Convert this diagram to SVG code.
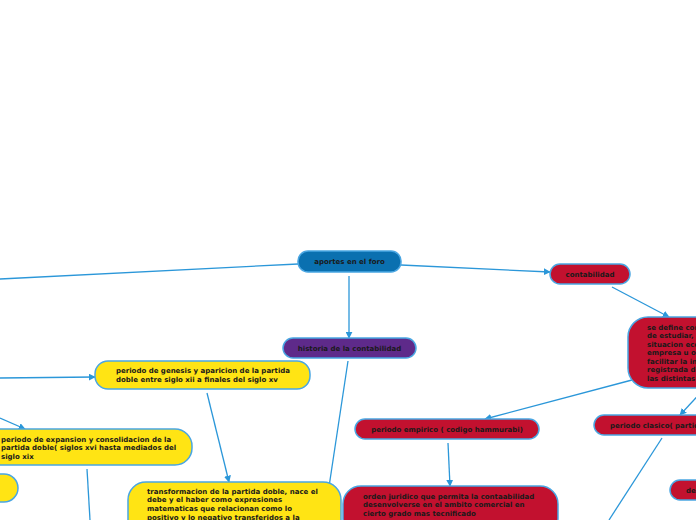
<svg xmlns="http://www.w3.org/2000/svg" width="696" height="520" viewBox="0 0 696 520">
<style>
.n{stroke:#4aa6e2;stroke-width:1.5}
.blue{fill:#0a70b0}
.red{fill:#c2112f}
.pur{fill:#5e2a8a}
.yel{fill:#ffe414}
text{font-family:"DejaVu Sans",Verdana,sans-serif;font-weight:bold;font-size:7px;fill:#1a1a1a}
.c{text-anchor:middle}
.e{fill:none;stroke:#2b97d9;stroke-width:1.3}
</style>
<defs>
<marker id="ah" viewBox="0 0 10 10" refX="9" refY="5" markerWidth="7" markerHeight="7" markerUnits="userSpaceOnUse" orient="auto">
<path d="M0,0 L10,5 L0,10 z" fill="#2b97d9"/>
</marker>
</defs>
<rect width="696" height="520" fill="#ffffff"/>
<g id="connectors">
<line class="e" x1="298" y1="264" x2="0" y2="279"/>
<line class="e" x1="401" y1="265" x2="550" y2="272" marker-end="url(#ah)"/>
<line class="e" x1="349" y1="276" x2="349" y2="338" marker-end="url(#ah)"/>
<line class="e" x1="612" y1="287" x2="669" y2="317" marker-end="url(#ah)"/>
<line class="e" x1="632" y1="380" x2="485" y2="419" marker-end="url(#ah)"/>
<line class="e" x1="705" y1="388" x2="680" y2="415" marker-end="url(#ah)"/>
<line class="e" x1="448" y1="443" x2="450" y2="486" marker-end="url(#ah)"/>
<line class="e" x1="662" y1="438" x2="609" y2="520"/>
<line class="e" x1="348" y1="361" x2="327" y2="500"/>
<line class="e" x1="0" y1="378" x2="95" y2="377" marker-end="url(#ah)"/>
<line class="e" x1="0" y1="418" x2="25" y2="429" marker-end="url(#ah)"/>
<line class="e" x1="207" y1="393" x2="229" y2="482" marker-end="url(#ah)"/>
<line class="e" x1="87" y1="469" x2="90" y2="520"/>
</g>
<g id="aportes">
<rect class="n blue" x="298" y="251" width="103" height="21" rx="10"/>
<text class="c" x="349.5" y="264">aportes en el foro</text>
</g>
<g id="contabilidad">
<rect class="n red" x="550" y="264" width="80" height="20" rx="10"/>
<text class="c" x="590" y="276.5">contabilidad</text>
</g>
<g id="definicion">
<rect class="n red" x="628" y="317" width="100" height="71" rx="20"/>
<text x="647" y="329.5">se define como</text>
<text x="647" y="338">de estudiar,</text>
<text x="647" y="346.5">situacion economica</text>
<text x="647" y="355">empresa u organizacion</text>
<text x="647" y="363.5">facilitar la informacion</text>
<text x="647" y="372">registrada de</text>
<text x="647" y="380.5">las distintas</text>
</g>
<g id="historia">
<rect class="n pur" x="283" y="338" width="133" height="20" rx="10"/>
<text class="c" x="349.5" y="350.5">historia de la contabilidad</text>
</g>
<g id="genesis">
<rect class="n yel" x="95" y="361" width="215" height="28" rx="13"/>
<text x="116" y="373">periodo de genesis y  aparicion de la partida</text>
<text x="116" y="382">doble entre siglo xii a finales del siglo xv</text>
</g>
<g id="expansion">
<rect class="n yel" x="-40" y="429" width="232" height="36" rx="17"/>
<text x="1" y="441.5">periodo de expansion y consolidacion de la</text>
<text x="1" y="450.2">partida doble( siglos xvi hasta mediados del</text>
<text x="1" y="458.9">siglo xix</text>
</g>
<g id="yellow-small">
<rect class="n yel" x="-40" y="474" width="58" height="28" rx="14"/>
</g>
<g id="transformacion">
<rect class="n yel" x="128" y="482" width="213" height="60" rx="18"/>
<text x="147" y="493.5">transformacion de la partida doble, nace el</text>
<text x="147" y="502.2">debe y el haber como expresiones</text>
<text x="147" y="510.9">matematicas que relacionan como lo</text>
<text x="147" y="519.6">positivo y lo negativo transferidos a la</text>
</g>
<g id="empirico">
<rect class="n red" x="355" y="419" width="184" height="20" rx="10"/>
<text class="c" x="447" y="431.5">periodo empirico ( codigo hammurabi)</text>
</g>
<g id="orden">
<rect class="n red" x="343" y="486" width="215" height="50" rx="18"/>
<text x="363" y="498.5">orden juridico que permita la contaabilidad</text>
<text x="363" y="507">desenvolverse en el ambito comercial en</text>
<text x="363" y="515.5">cierto grado mas tecnificado</text>
</g>
<g id="clasico">
<rect class="n red" x="594" y="415" width="140" height="20" rx="10"/>
<text x="610" y="427.5">periodo clasico( partida</text>
</g>
<g id="red-small">
<rect class="n red" x="670" y="480" width="60" height="20" rx="10"/>
<text x="686" y="492.5">de</text>
</g>
</svg>
